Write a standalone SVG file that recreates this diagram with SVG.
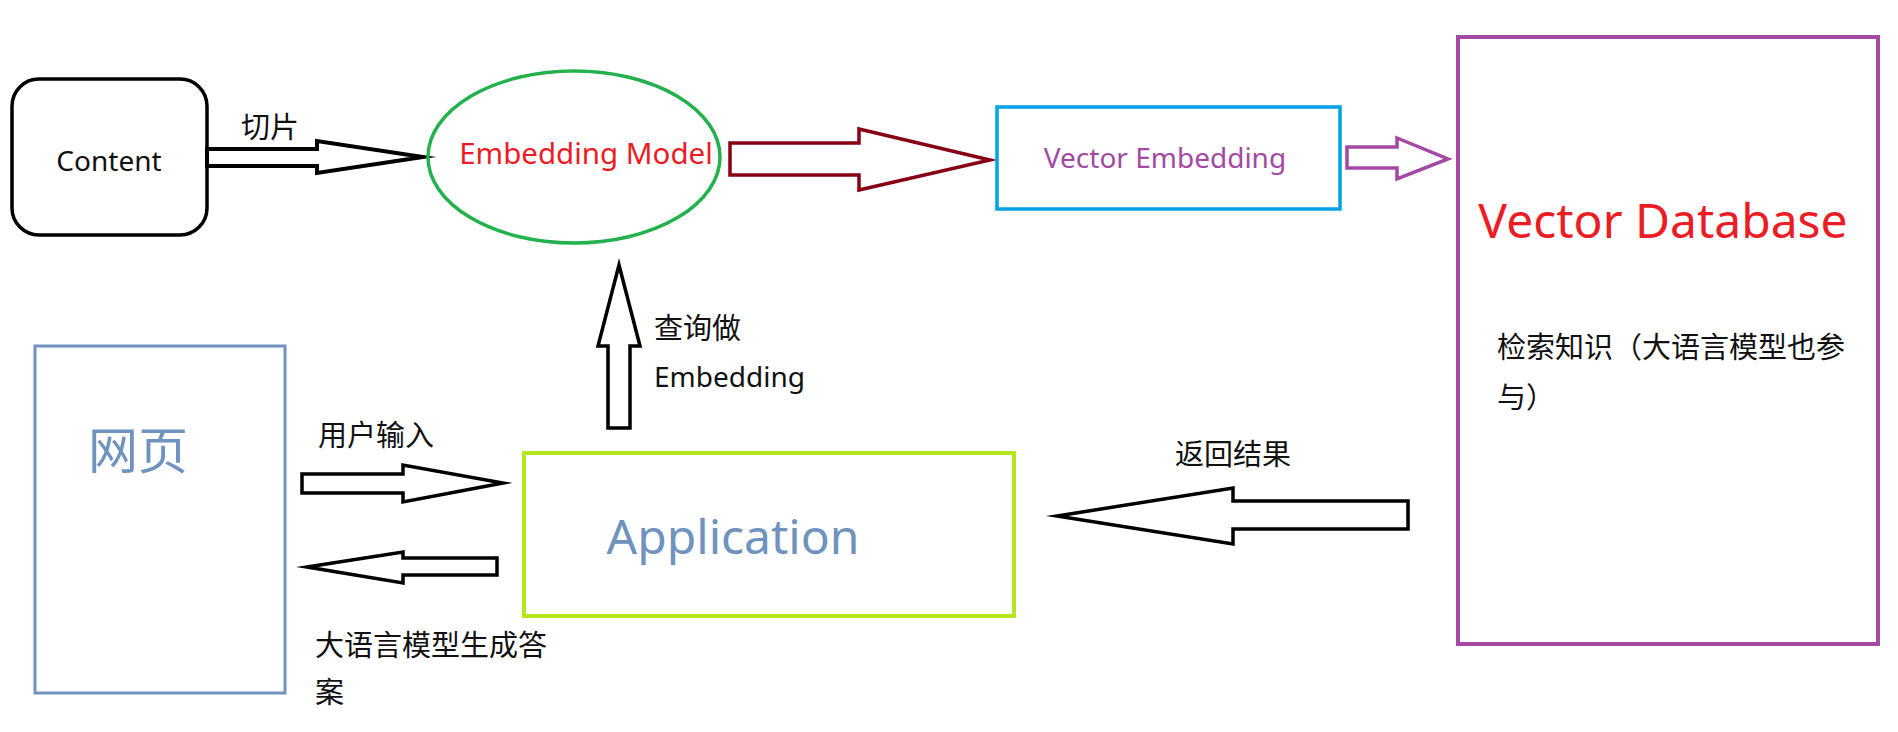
<svg xmlns="http://www.w3.org/2000/svg" width="1898" height="732" viewBox="0 0 1898 732">
<style>
.bg{fill:#ffffff}
.box{fill:none}
.arr{fill:#ffffff;stroke-linejoin:miter;stroke-miterlimit:10}
.cn{font-family:"Noto Sans CJK SC","Noto Sans",sans-serif;font-size:29px;fill:#111111}
.lat{font-family:"Noto Sans","Noto Sans CJK SC",sans-serif}
</style>
<rect class="bg" x="0" y="0" width="1898" height="732"/>
<g id="connectors">
  <polygon class="arr" points="207,149 317,149 317,141 423,157 317,173 317,166 207,166" stroke="#000000" stroke-width="4"/>
  <polygon class="arr" points="730,143 859,143 859,129 990,160 859,190 859,175 730,175" stroke="#880015" stroke-width="3.5"/>
  <polygon class="arr" points="1347,147 1397,147 1397,138 1448,159 1397,179 1397,168 1347,168" stroke="#a349a4" stroke-width="3.5"/>
  <polygon class="arr" points="619,265 640,346 630,346 630,428 608,428 608,346 598,346" stroke="#000000" stroke-width="3.5"/>
  <polygon class="arr" points="302,474 403,474 403,465 503,483 403,502 403,493 302,493" stroke="#000000" stroke-width="3.5"/>
  <polygon class="arr" points="307,567 403,552 403,558 497,558 497,575 403,575 403,583" stroke="#000000" stroke-width="3.5"/>
  <polygon class="arr" points="1057,516 1233,488 1233,501 1408,501 1408,529 1233,529 1233,544" stroke="#000000" stroke-width="3.5"/>
  <text class="cn" x="241" y="138">切片</text>
  <text class="cn" x="654" y="339">查询做</text>
  <text class="lat" x="654" y="387" font-size="28" fill="#111111">Embedding</text>
  <text class="cn" x="318" y="446">用户输入</text>
  <text class="cn" x="315" y="656">大语言模型生成答</text>
  <text class="cn" x="315" y="703">案</text>
  <text class="cn" x="1175" y="465">返回结果</text>
</g>
<g id="content">
  <rect class="box" x="12" y="79" width="195" height="156" rx="27" ry="27" stroke="#000000" stroke-width="3.5"/>
  <text class="lat" x="109" y="171" font-size="28" text-anchor="middle" fill="#111111">Content</text>
</g>
<g id="embedding-model">
  <ellipse class="box" cx="574" cy="157" rx="146" ry="86" stroke="#22b14c" stroke-width="3.5"/>
  <text class="lat" x="586" y="164" font-size="29.5" text-anchor="middle" fill="#ed1c24">Embedding Model</text>
</g>
<g id="vector-embedding">
  <rect class="box" x="997" y="107" width="343" height="102" stroke="#00a2e8" stroke-width="3.5"/>
  <text class="lat" x="1165" y="168" font-size="28" text-anchor="middle" fill="#a349a4">Vector Embedding</text>
</g>
<g id="vector-database">
  <rect class="box" x="1458" y="37" width="420" height="607" stroke="#a349a4" stroke-width="4"/>
  <text class="lat" x="1663" y="238" font-size="48" text-anchor="middle" fill="#ed1c24">Vector Database</text>
  <text class="cn" x="1497" y="358">检索知识（大语言模型也参</text>
  <text class="cn" x="1497" y="408">与）</text>
</g>
<g id="webpage">
  <rect class="box" x="35" y="346" width="250" height="347" stroke="#7092be" stroke-width="3"/>
  <text x="88" y="469" font-family="Noto Sans CJK SC, sans-serif" font-size="50" fill="#7092be">网页</text>
</g>
<g id="application">
  <rect class="box" x="524" y="453" width="490" height="163" stroke="#b5e61d" stroke-width="4"/>
  <text class="lat" x="733" y="554" font-size="48" text-anchor="middle" fill="#7092be">Application</text>
</g>
</svg>
